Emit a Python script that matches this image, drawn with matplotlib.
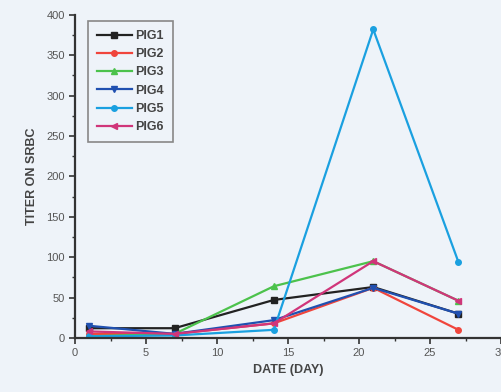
import matplotlib.pyplot as plt
from matplotlib.ticker import MultipleLocator

plt.rcParams['font.family'] = ['Liberation Sans', 'DejaVu Sans']

days = [1, 7, 14, 21, 27]
pig1 = [12, 12, 47, 63, 30]
pig2 = [5, 5, 18, 62, 10]
pig3 = [2, 5, 64, 95, 46]
pig4 = [15, 5, 22, 62, 30]
pig5 = [2, 3, 10, 382, 94]
pig6 = [8, 5, 18, 95, 46]

series = [
    ('PIG1', pig1, '#222222', 's'),
    ('PIG2', pig2, '#f0453c', 'o'),
    ('PIG3', pig3, '#4cc24c', '^'),
    ('PIG4', pig4, '#2050b0', 'v'),
    ('PIG5', pig5, '#1aa0e0', 'o'),
    ('PIG6', pig6, '#d0357a', '<'),
]

bg = '#eef3f9'
fig = plt.figure(figsize=(5.01, 3.92), dpi=100, facecolor=bg)
ax = fig.add_axes([0.15, 0.138, 0.85, 0.824], facecolor=bg)

for name, vals, col, mk in series:
    ax.plot(days, vals, color=col, marker=mk, markersize=4, linewidth=1.6, label=name)

ax.set_xlim(0, 30)
ax.set_ylim(0, 400)
ax.xaxis.set_major_locator(MultipleLocator(5))
ax.xaxis.set_minor_locator(MultipleLocator(2.5))
ax.yaxis.set_major_locator(MultipleLocator(50))
ax.yaxis.set_minor_locator(MultipleLocator(25))
ax.tick_params(which='both', direction='out', color='#333333', labelcolor='#555555', labelsize=8)
ax.tick_params(which='major', length=4, width=1.2)
ax.tick_params(which='minor', length=2.5, width=1)
for s in ('top', 'right'):
    ax.spines[s].set_visible(False)
for s in ('left', 'bottom'):
    ax.spines[s].set_color('#333333')
    ax.spines[s].set_linewidth(1.6)

ax.set_xlabel('DATE (DAY)', fontsize=9, fontweight='bold', color='#444444', labelpad=4)
ax.set_ylabel('TITER ON SRBC', fontsize=9, fontweight='bold', color='#444444', labelpad=6)

leg = ax.legend(loc='upper left', bbox_to_anchor=(0.015, 1.0), fancybox=False,
                edgecolor='#888888', facecolor=bg, framealpha=1, fontsize=9,
                handlelength=2.8, handletextpad=0.3, labelspacing=0.5, borderpad=0.7)
leg.get_frame().set_linewidth(1.2)
for t in leg.get_texts():
    t.set_fontweight('bold')
    t.set_color('#444444')

fig.savefig('out.png', dpi=100, facecolor=bg)
